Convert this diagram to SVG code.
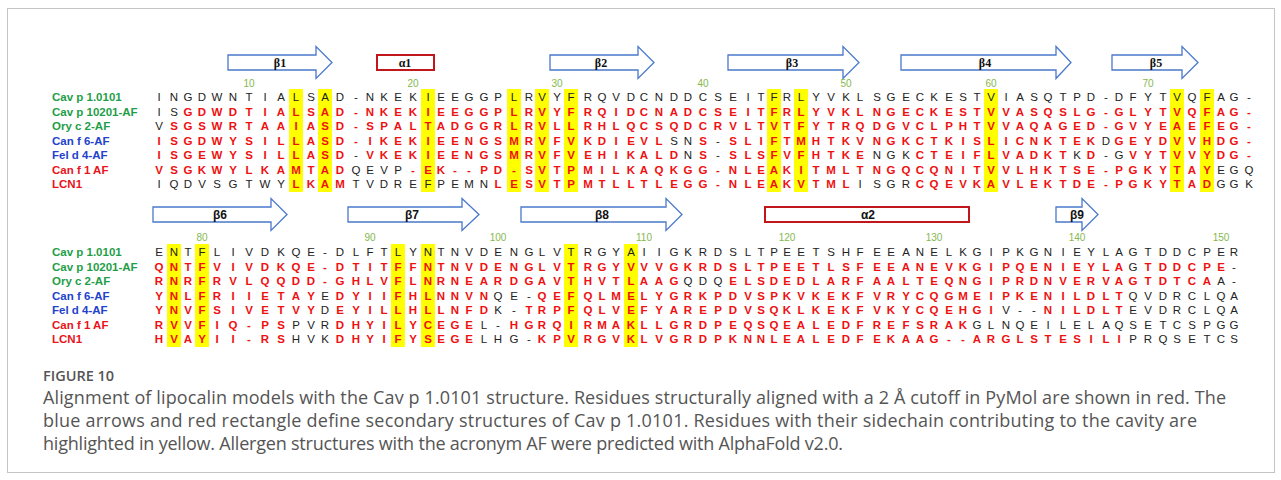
<svg xmlns="http://www.w3.org/2000/svg" width="1281" height="480" viewBox="0 0 1281 480">
<style>
.bg{fill:#fff}
.frame{fill:none;stroke:#c4c4c4;stroke-width:1}
.arr{fill:#fff;stroke:#4a78cc;stroke-width:1.3}
.hel{fill:#fff;stroke:#c0161c;stroke-width:2}
.ssl{font-family:"Liberation Serif",serif;font-weight:bold;font-size:12px;fill:#111;text-anchor:middle}
.ssl2{font-family:"Liberation Sans",Arial,sans-serif;font-weight:bold;font-size:12px;fill:#111;text-anchor:middle}
.num{font-family:"Liberation Sans",Arial,sans-serif;font-size:10px;fill:#86b84e;text-anchor:middle}
.lab{font-family:"Liberation Sans",Arial,sans-serif;font-weight:bold;font-size:11.5px}
.g{fill:#1f9e48}.b{fill:#2242cc}.rl{fill:#e8141c}
.s{font-family:"Liberation Sans",Arial,sans-serif;font-size:11.5px;text-anchor:middle}
.r{fill:#ee1111;font-weight:bold}
.k{fill:#222;font-weight:normal}
.hl{fill:#ffff00}
.cap{font-family:"Open Sans","Liberation Sans",sans-serif;font-size:18px;fill:#555}
.fig{font-family:"Open Sans","Liberation Sans",sans-serif;font-size:14.5px;font-weight:600;fill:#555}
</style>
<rect class="bg" x="0" y="0" width="1281" height="480"/>
<rect class="frame" x="7.5" y="8.5" width="1267" height="464"/>

<g id="highlights">
<g id="hl-block1">
<rect class="hl" x="289" y="89" width="14" height="103"/>
<rect class="hl" x="318" y="89" width="14" height="103"/>
<rect class="hl" x="421" y="89" width="14" height="103"/>
<rect class="hl" x="507" y="89" width="14" height="103"/>
<rect class="hl" x="535" y="89" width="14" height="103"/>
<rect class="hl" x="564" y="89" width="14" height="103"/>
<rect class="hl" x="767" y="89" width="14" height="103"/>
<rect class="hl" x="794" y="89" width="14" height="103"/>
<rect class="hl" x="984" y="89" width="14" height="103"/>
<rect class="hl" x="1170" y="89" width="14" height="103"/>
<rect class="hl" x="1200" y="89" width="14" height="103"/>
</g>
<g id="hl-block2">
<rect class="hl" x="167" y="244" width="14" height="103"/>
<rect class="hl" x="195" y="244" width="14" height="103"/>
<rect class="hl" x="391" y="244" width="14" height="103"/>
<rect class="hl" x="421" y="244" width="14" height="103"/>
<rect class="hl" x="564" y="244" width="14" height="103"/>
<rect class="hl" x="624" y="244" width="14" height="103"/>
</g>
</g>

<g id="secondary-structure">
<g id="beta1"><path class="arr" d="M228,55 H316 V46.5 L332,62.5 L316,78.5 V70 H228 Z"/><text class="ssl" x="280" y="67">β1</text></g>
<g id="alpha1"><rect class="hel" x="377" y="55" width="57" height="15"/><text class="ssl" x="405" y="67">α1</text></g>
<g id="beta2"><path class="arr" d="M550,55 H638 V46.5 L654,62.5 L638,78.5 V70 H550 Z"/><text class="ssl" x="601" y="67">β2</text></g>
<g id="beta3"><path class="arr" d="M728,55 H843 V46.5 L859,62.5 L843,78.5 V70 H728 Z"/><text class="ssl" x="792" y="67">β3</text></g>
<g id="beta4"><path class="arr" d="M901,55 H1056 V46.5 L1071,62.5 L1056,78.5 V70 H901 Z"/><text class="ssl" x="985" y="67">β4</text></g>
<g id="beta5"><path class="arr" d="M1112,55 H1182 V46.5 L1198,62.5 L1182,78.5 V70 H1112 Z"/><text class="ssl" x="1156" y="67">β5</text></g>
<g id="beta6"><path class="arr" d="M153,207 H271 V198.5 L287,214.5 L271,230.5 V222 H153 Z"/><text class="ssl2" x="220" y="219">β6</text></g>
<g id="beta7"><path class="arr" d="M348,207 H462 V198.5 L479,214.5 L462,230.5 V222 H348 Z"/><text class="ssl2" x="412" y="219">β7</text></g>
<g id="beta8"><path class="arr" d="M521,207 H666 V198.5 L682,214.5 L666,230.5 V222 H521 Z"/><text class="ssl2" x="602" y="219">β8</text></g>
<g id="alpha2"><rect class="hel" x="765" y="207" width="204" height="15"/><text class="ssl2" x="868" y="219">α2</text></g>
<g id="beta9"><path class="arr" d="M1056,207 H1082 V198.5 L1098,214.5 L1082,230.5 V222 H1056 Z"/><text class="ssl2" x="1077" y="219">β9</text></g>
</g>

<g id="numbering">
<text class="num" x="249" y="87">10</text><text class="num" x="413" y="87">20</text><text class="num" x="557" y="87">30</text><text class="num" x="703" y="87">40</text><text class="num" x="846" y="87">50</text><text class="num" x="991" y="87">60</text><text class="num" x="1148" y="87">70</text>
<text class="num" x="202" y="241">80</text><text class="num" x="370" y="241">90</text><text class="num" x="498" y="241">100</text><text class="num" x="644" y="241">110</text><text class="num" x="787" y="241">120</text><text class="num" x="934" y="241">130</text><text class="num" x="1077" y="241">140</text><text class="num" x="1221" y="241">150</text>
</g>

<g id="labels">
<text class="lab g" x="52" y="101">Cav p 1.0101</text>
<text class="lab g" x="52" y="115.5">Cav p 10201-AF</text>
<text class="lab g" x="52" y="130">Ory c 2-AF</text>
<text class="lab b" x="52" y="144.5">Can f 6-AF</text>
<text class="lab b" x="52" y="159">Fel d 4-AF</text>
<text class="lab rl" x="52" y="173.5">Can f 1 AF</text>
<text class="lab rl" x="52" y="188">LCN1</text>
<text class="lab g" x="52" y="256">Cav p 1.0101</text>
<text class="lab g" x="52" y="270.5">Cav p 10201-AF</text>
<text class="lab g" x="52" y="285">Ory c 2-AF</text>
<text class="lab b" x="52" y="299.5">Can f 6-AF</text>
<text class="lab b" x="52" y="314">Fel d 4-AF</text>
<text class="lab rl" x="52" y="328.5">Can f 1 AF</text>
<text class="lab rl" x="52" y="343">LCN1</text>
</g>

<g id="block1">
<text class="s" y="101" x="159 174 188 202 217 233 249 265 281 296 311 325 340 356 370 384 398 413 428 441 455 469 484 498 514 529 542 557 571 588 602 616 631 644 659 674 688 703 718 733 748 761 774 787 801 816 831 846 860 877 891 906 920 934 949 963 977 991 1006 1020 1034 1048 1063 1077 1091 1106 1119 1133 1148 1163 1177 1192 1207 1221 1234 1249"><tspan class="k">INGDWNTIALSAD-NKEKIEEGGPLRVYFRQVDCNDDCSEITFRLYVKLSGECKESTVIASQTPD-DFYTVQFAG-</tspan></text>
<text class="s" y="115.5" x="159 174 188 202 217 233 249 265 281 296 311 325 340 356 370 384 398 413 428 441 455 469 484 498 514 529 542 557 571 588 602 616 631 644 659 674 688 703 718 733 748 761 774 787 801 816 831 846 860 877 891 906 920 934 949 963 977 991 1006 1020 1034 1048 1063 1077 1091 1106 1119 1133 1148 1163 1177 1192 1207 1221 1234 1249"><tspan class="k">IS</tspan><tspan class="r">GDWDTIALSAD-NKEKIEEGGPLRVYFRQIDCNADCSEITFRLYVKLNGECKESTVVASQSLG-GLYTVQFAG-</tspan></text>
<text class="s" y="130" x="159 174 188 202 217 233 249 265 281 296 311 325 340 356 370 384 398 413 428 441 455 469 484 498 514 529 542 557 571 588 602 616 631 644 659 674 688 703 718 733 748 761 774 787 801 816 831 846 860 877 891 906 920 934 949 963 977 991 1006 1020 1034 1048 1063 1077 1091 1106 1119 1133 1148 1163 1177 1192 1207 1221 1234 1249"><tspan class="k">V</tspan><tspan class="r">SGSWRTAAIASD-SPALTADGGRLRVLLRHLQCSQDCRVLTVTFYTRQDGVCLPHTVVAQAGED-GVYEAEFEG-</tspan></text>
<text class="s" y="144.5" x="159 174 188 202 217 233 249 265 281 296 311 325 340 356 370 384 398 413 428 441 455 469 484 498 514 529 542 557 571 588 602 616 631 644 659 674 688 703 718 733 748 761 774 787 801 816 831 846 860 877 891 906 920 934 949 963 977 991 1006 1020 1034 1048 1063 1077 1091 1106 1119 1133 1148 1163 1177 1192 1207 1221 1234 1249"><tspan class="r">ISGDWYSILLASD-IKEKIEENGSMRVFVKDIEVL</tspan><tspan class="k">SN</tspan><tspan class="r">S</tspan><tspan class="k">-</tspan><tspan class="r">SLIFTMHTKVNGKCTKISLICNKTEK</tspan><tspan class="k">D</tspan><tspan class="r">GEYDVVHDG-</tspan></text>
<text class="s" y="159" x="159 174 188 202 217 233 249 265 281 296 311 325 340 356 370 384 398 413 428 441 455 469 484 498 514 529 542 557 571 588 602 616 631 644 659 674 688 703 718 733 748 761 774 787 801 816 831 846 860 877 891 906 920 934 949 963 977 991 1006 1020 1034 1048 1063 1077 1091 1106 1119 1133 1148 1163 1177 1192 1207 1221 1234 1249"><tspan class="r">ISGEWYSILLASD</tspan><tspan class="k">-</tspan><tspan class="r">VKEKIEENGSMRVFVEHIKALD</tspan><tspan class="k">N</tspan><tspan class="r">S</tspan><tspan class="k">-</tspan><tspan class="r">SLSFVFHTKE</tspan><tspan class="k">NGK</tspan><tspan class="r">CTEIFLVADKT</tspan><tspan class="k">K</tspan><tspan class="r">D</tspan><tspan class="k">-G</tspan><tspan class="r">VYTVVYDG-</tspan></text>
<text class="s" y="173.5" x="159 174 188 202 217 233 249 265 281 296 311 325 340 356 370 384 398 413 428 441 455 469 484 498 514 529 542 557 571 588 602 616 631 644 659 674 688 703 718 733 748 761 774 787 801 816 831 846 860 877 891 906 920 934 949 963 977 991 1006 1020 1034 1048 1063 1077 1091 1106 1119 1133 1148 1163 1177 1192 1207 1221 1234 1249"><tspan class="r">VSGKWYLKAMTAD</tspan><tspan class="k">QEVP</tspan><tspan class="r">-EK--PD-SVTPMILKAQKGG-NLEAKITMLTNGQCQNITVVLHKTSE-PGKYTAY</tspan><tspan class="k">EGQ</tspan></text>
<text class="s" y="188" x="159 174 188 202 217 233 249 265 281 296 311 325 340 356 370 384 398 413 428 441 455 469 484 498 514 529 542 557 571 588 602 616 631 644 659 674 688 703 718 733 748 761 774 787 801 816 831 846 860 877 891 906 920 934 949 963 977 991 1006 1020 1034 1048 1063 1077 1091 1106 1119 1133 1148 1163 1177 1192 1207 1221 1234 1249"><tspan class="k">IQDVSGTWY</tspan><tspan class="r">LKAM</tspan><tspan class="k">TVDREFPEMN</tspan><tspan class="r">LESVTPMTLLTLEGG-NLEAKVTML</tspan><tspan class="k">ISGR</tspan><tspan class="r">CQEVKAVLEKTDE-PGKYTAD</tspan><tspan class="k">GGK</tspan></text>
</g>

<g id="block2">
<text class="s" y="256" x="159 174 188 202 217 233 249 265 281 296 311 325 340 356 370 384 398 413 428 441 455 469 484 498 514 529 542 557 571 588 602 616 631 644 659 674 688 703 718 733 748 761 774 787 801 816 831 846 860 877 891 906 920 934 949 963 977 991 1006 1020 1034 1048 1063 1077 1091 1106 1119 1133 1148 1163 1177 1192 1207 1221 1234"><tspan class="k">ENTFLIVDKQE-DLFTLYNTNVDENGLVTRGYAIIGKRDSLTPEETSHFEEANELKGIPKGNIEYLAGTDDCPER</tspan></text>
<text class="s" y="270.5" x="159 174 188 202 217 233 249 265 281 296 311 325 340 356 370 384 398 413 428 441 455 469 484 498 514 529 542 557 571 588 602 616 631 644 659 674 688 703 718 733 748 761 774 787 801 816 831 846 860 877 891 906 920 934 949 963 977 991 1006 1020 1034 1048 1063 1077 1091 1106 1119 1133 1148 1163 1177 1192 1207 1221 1234"><tspan class="r">QNTFVIVDKQE-DTITFFNTNVDENGLVTRGYVVVGKRDSLTPEETLSFEEANEVKGIPQENIEYLA</tspan><tspan class="k">G</tspan><tspan class="r">TDDCPE</tspan><tspan class="k">-</tspan></text>
<text class="s" y="285" x="159 174 188 202 217 233 249 265 281 296 311 325 340 356 370 384 398 413 428 441 455 469 484 498 514 529 542 557 571 588 602 616 631 644 659 674 688 703 718 733 748 761 774 787 801 816 831 846 860 877 891 906 920 934 949 963 977 991 1006 1020 1034 1048 1063 1077 1091 1106 1119 1133 1148 1163 1177 1192 1207 1221 1234"><tspan class="r">RNRFRVLQQDD-GHLVFLNRNEARDGAVTHVTLAAG</tspan><tspan class="k">QDQ</tspan><tspan class="r">ELSDEDLARFAALTEQNGIPRDNVERVAGTDTCA</tspan><tspan class="k">A-</tspan></text>
<text class="s" y="299.5" x="159 174 188 202 217 233 249 265 281 296 311 325 340 356 370 384 398 413 428 441 455 469 484 498 514 529 542 557 571 588 602 616 631 644 659 674 688 703 718 733 748 761 774 787 801 816 831 846 860 877 891 906 920 934 949 963 977 991 1006 1020 1034 1048 1063 1077 1091 1106 1119 1133 1148 1163 1177 1192 1207 1221 1234"><tspan class="r">YNLFRIIETAY</tspan><tspan class="k">E</tspan><tspan class="r">DYIIFHLNNVN</tspan><tspan class="k">QE-</tspan><tspan class="r">QEFQLMELYGRKPDVSPKVKEKFVRYCQGMEIPKENILDLT</tspan><tspan class="k">QVDRCLQA</tspan></text>
<text class="s" y="314" x="159 174 188 202 217 233 249 265 281 296 311 325 340 356 370 384 398 413 428 441 455 469 484 498 514 529 542 557 571 588 602 616 631 644 659 674 688 703 718 733 748 761 774 787 801 816 831 846 860 877 891 906 920 934 949 963 977 991 1006 1020 1034 1048 1063 1077 1091 1106 1119 1133 1148 1163 1177 1192 1207 1221 1234"><tspan class="r">YNVFSIVETVY</tspan><tspan class="k">D</tspan><tspan class="r">EYILLHLLNFD</tspan><tspan class="k">K-</tspan><tspan class="r">TRPFQLVEFYAREPDVSQKLKEKFVKYCQEHGI</tspan><tspan class="k">V--</tspan><tspan class="r">NILDLT</tspan><tspan class="k">EVDRCLQA</tspan></text>
<text class="s" y="328.5" x="159 174 188 202 217 233 249 265 281 296 311 325 340 356 370 384 398 413 428 441 455 469 484 498 514 529 542 557 571 588 602 616 631 644 659 674 688 703 718 733 748 761 774 787 801 816 831 846 860 877 891 906 920 934 949 963 977 991 1006 1020 1034 1048 1063 1077 1091 1106 1119 1133 1148 1163 1177 1192 1207 1221 1234"><tspan class="r">RVVFIQ-PS</tspan><tspan class="k">PVR</tspan><tspan class="r">DHYILYCEGE</tspan><tspan class="k">L-</tspan><tspan class="r">HGRQIRMAKLLGRDPEQSQEALEDFREFSRAK</tspan><tspan class="k">GLNQEILELAQSETCSPGG</tspan></text>
<text class="s" y="343" x="159 174 188 202 217 233 249 265 281 296 311 325 340 356 370 384 398 413 428 441 455 469 484 498 514 529 542 557 571 588 602 616 631 644 659 674 688 703 718 733 748 761 774 787 801 816 831 846 860 877 891 906 920 934 949 963 977 991 1006 1020 1034 1048 1063 1077 1091 1106 1119 1133 1148 1163 1177 1192 1207 1221 1234"><tspan class="r">HVAYII-RS</tspan><tspan class="k">HVK</tspan><tspan class="r">DHYIFYSEGE</tspan><tspan class="k">LHG-</tspan><tspan class="r">KPVRGVKLVGRDPKNNLEALEDFEKAAG--ARGLSTESILI</tspan><tspan class="k">PRQSETCS</tspan></text>
</g>

<g id="caption">
<text class="fig" x="43" y="381">FIGURE 10</text>
<text class="cap" x="43" y="403.5" textLength="1183" lengthAdjust="spacing">Alignment of lipocalin models with the Cav p 1.0101 structure. Residues structurally aligned with a 2 Å cutoff in PyMol are shown in red. The</text>
<text class="cap" x="43" y="426.5" textLength="1154" lengthAdjust="spacing">blue arrows and red rectangle define secondary structures of Cav p 1.0101. Residues with their sidechain contributing to the cavity are</text>
<text class="cap" x="43" y="449.5" textLength="800" lengthAdjust="spacing">highlighted in yellow. Allergen structures with the acronym AF were predicted with AlphaFold v2.0.</text>
</g>
</svg>
